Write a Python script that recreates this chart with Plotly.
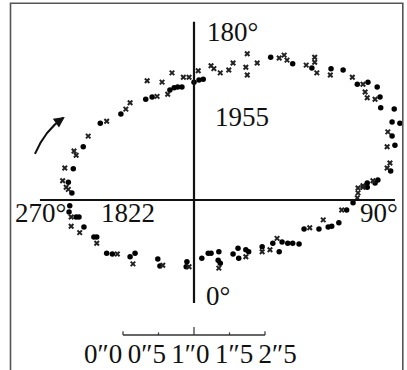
import plotly.graph_objects as go

# Relative positions of the companion (arcsec), measured on the plate
# Observations shown as filled dots
dot_x = [-0.68, -0.59, -0.34, -0.28, -0.23, -0.17, 0.00, 0.07, 0.13, 1.08, 1.39, 1.66, 1.93, 2.10,
         2.30, 2.45, 2.58, 2.62, 2.63, 2.82, 2.79, 2.90, 2.79, 2.83, 2.77, 2.59, 2.44,
         -1.32, -1.03, -1.56, -1.70, -1.77, -1.72, -1.75, -1.76, -1.66, -1.62, -1.55, -1.41, -1.37,
         -1.23, -1.15, -0.90, -0.83, -0.51, -0.48, -0.10, -0.11, 0.11, 0.20, 0.24, 0.35, 0.34, 0.37,
         0.55, 0.62, 0.63, 0.73, 0.77, 0.96, 1.11, 1.20, 1.24, 1.32, 1.39, 1.48, 1.55, 1.76, 1.89,
         1.94, 2.04, 2.15, 2.24, 2.44, 2.55]
dot_y = [1.42, 1.45, 1.55, 1.58, 1.59, 1.59, 1.66, 1.69, 1.70, 2.01, 1.92, 1.86, 1.85, 1.83,
         1.63, 1.66, 1.59, 1.45, 1.30, 1.28, 1.10, 1.08, 0.90, 0.77, 0.41, 0.28, 0.24,
         1.08, 1.21, 0.75, 0.44, 0.25, 0.10, -0.08, -0.17, -0.24, -0.24, -0.38, -0.52, -0.52,
         -0.75, -0.76, -0.80, -0.75, -0.83, -0.93, -0.87, -0.94, -0.82, -0.75, -0.75, -0.73, -0.85, -0.89,
         -0.76, -0.68, -0.82, -0.70, -0.73, -0.66, -0.61, -0.73, -0.59, -0.61, -0.61, -0.62, -0.41, -0.41, -0.38,
         -0.37, -0.32, -0.14, -0.04, 0.18, 0.24]

# Observations shown as crosses
cross_x = [-0.52, -0.37, -0.66, -0.45, -0.31, -0.15, -0.07, 0.06, 0.24, 0.28, 0.37, 0.49, 0.55, 0.73,
           0.75, 0.75, 0.89, 1.20, 1.27, 1.31, 1.58, 1.70, 1.70, 1.73, 1.92, 2.23, 2.38, 2.41, 2.44,
           2.55, 2.73, 2.72, 2.76, 2.72, 2.52, 2.38, 2.31,
           -1.23, -0.96, -0.90, -1.49, -1.69, -1.66, -1.82, -1.85, -1.80, -1.77,
           -1.73, -1.73, -1.61, -1.37, -1.08, -0.86, -0.44, -0.07, 0.35, 0.73, 0.96, 1.07, 1.17,
           1.63, 1.82, 2.08, 2.30, 2.31, 2.38]
cross_y = [1.46, 1.49, 1.68, 1.66, 1.79, 1.73, 1.73, 1.82, 1.89, 1.85, 1.79, 1.83, 1.93, 1.87,
           1.76, 2.06, 1.93, 2.00, 2.04, 1.97, 1.90, 2.01, 1.94, 1.79, 1.76, 1.73, 1.63, 1.52, 1.44,
           1.42, 0.96, 0.75, 0.52, 0.45, 0.27, 0.18, 0.17,
           1.11, 1.28, 1.37, 0.90, 0.69, 0.63, 0.45, 0.27, 0.18, 0.15,
           -0.24, -0.37, -0.46, -0.61, -0.76, -0.90, -0.92, -0.94, -0.96, -0.80, -0.73, -0.70, -0.54,
           -0.39, -0.28, -0.14, 0.03, 0.10, 0.20]

scale_ticks = [-1.0, -0.5, 0.0, 0.5, 1.0]
scale_labels = ["0″0", "0″5", "1″0", "1″5", "2″5"]

FONT = "Liberation Serif, Times New Roman, serif"
INK = "#000000"

fig = go.Figure()
fig.add_trace(go.Scatter(x=dot_x, y=dot_y, mode="markers",
                         marker=dict(symbol="circle", size=5.5, color=INK), showlegend=False))
fig.add_trace(go.Scatter(x=cross_x, y=cross_y, mode="markers",
                         marker=dict(symbol="x-thin", size=4.5, color=INK,
                                     line=dict(width=2, color="#222")), showlegend=False))

shapes = []
# axes through the primary
shapes.append(dict(type="line", x0=0, x1=0, y0=2.51, y1=-1.45, xref="x", yref="y",
                   line=dict(color="#111", width=2.2)))
shapes.append(dict(type="line", x0=-2.17, x1=2.83, y0=0, y1=0, xref="x", yref="y",
                   line=dict(color="#111", width=2.2)))
# scale bar
sb_y = -1.90
shapes.append(dict(type="line", x0=scale_ticks[0], x1=scale_ticks[-1], y0=sb_y, y1=sb_y,
                   xref="x", yref="y", line=dict(color="#333", width=1.5)))
for i, t in enumerate(scale_ticks):
    h = 0.11 if i == 2 else (0.05 if i in (0, 4) else 0.035)
    shapes.append(dict(type="line", x0=t, x1=t, y0=sb_y, y1=sb_y + h, xref="x", yref="y",
                       line=dict(color="#333", width=1.2)))
# direction-of-motion arrow (curve)
shapes.append(dict(type="path", path="M -2.24 0.65 Q -2.10 0.98 -1.84 1.16", xref="x", yref="y",
                   line=dict(color="#111", width=2)))
# frame
shapes.append(dict(type="rect", x0=10.5/407, x1=402.8/407, y0=-0.05, y1=1 - 3.3/370,
                   xref="paper", yref="paper", line=dict(color="#555", width=1.6)))

ann = []
def txt(x, y, s, anchor="left"):
    ann.append(dict(x=x, y=y, text=s, showarrow=False, xanchor=anchor, yanchor="middle",
                    xref="x", yref="y", font=dict(family=FONT, size=27, color="#111")))

txt(0.15, 2.37, "180°")
txt(0.27, 1.17, "1955")
txt(-1.34, -0.18, "1822")
txt(-2.55, -0.18, "270°")
txt(2.31, -0.18, "90°")
txt(0.14, -1.35, "0°")
txt(-0.05, -2.17, "\u2009".join(scale_labels), anchor="center")

ann.append(dict(x=-1.82, y=1.17, ax=-1.95, ay=1.08, xref="x", yref="y", axref="x", ayref="y",
                text="", showarrow=True, arrowhead=2, arrowsize=1.2, arrowwidth=1.8,
                arrowcolor="#111"))

fig.update_layout(
    width=407, height=370, autosize=False,
    margin=dict(l=0, r=0, t=0, b=0),
    paper_bgcolor="white", plot_bgcolor="white",
    xaxis=dict(range=[-194/71, 213/71], visible=False, fixedrange=True),
    yaxis=dict(range=[-170/71, 200/71], visible=False, fixedrange=True),
    shapes=shapes, annotations=ann,
)
fig.write_html("out.html", config={"displayModeBar": False},
               post_script="document.body.style.margin='0';document.body.style.overflow='hidden';")
